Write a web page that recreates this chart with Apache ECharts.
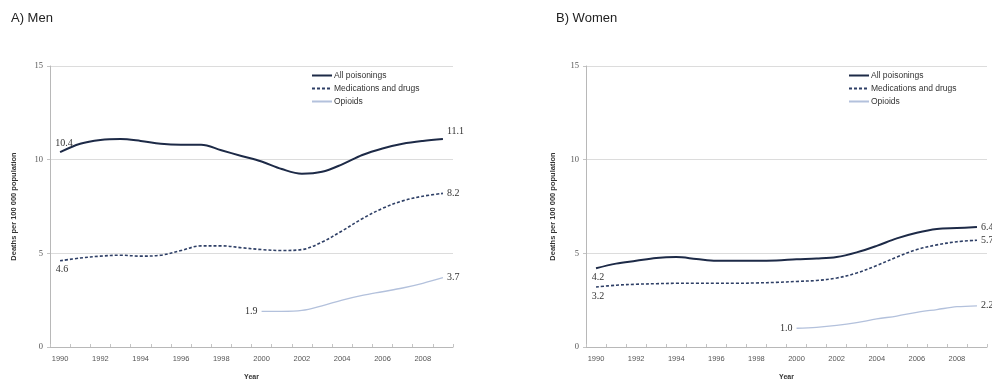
<!DOCTYPE html>
<html>
<head>
<meta charset="utf-8">
<style>
  html, body { margin: 0; padding: 0; background: #ffffff; }
  #chart { width: 992px; height: 386px; }
</style>
<script src="https://cdn.jsdelivr.net/npm/echarts@6/dist/echarts.min.js"></script>
</head>
<body>
<div id="chart"></div>
<script>
// Years on the category axis
const years = ['1990','1991','1992','1993','1994','1995','1996','1997','1998','1999',
               '2000','2001','2002','2003','2004','2005','2006','2007','2008','2009'];

// Deaths per 100 000 population — men
const menAll    = [10.4, 10.85, 11.05, 11.1, 11.0, 10.85, 10.8, 10.8, 10.5, 10.2,
                   9.9, 9.5, 9.25, 9.35, 9.75, 10.25, 10.6, 10.85, 11.0, 11.1];
const menMeds   = [4.6, 4.75, 4.85, 4.9, 4.85, 4.9, 5.15, 5.4, 5.4, 5.3,
                   5.2, 5.15, 5.2, 5.6, 6.2, 6.85, 7.4, 7.8, 8.05, 8.2];
const menOpi    = [null, null, null, null, null, null, null, null, null, null,
                   1.9, 1.9, 1.95, 2.2, 2.5, 2.75, 2.95, 3.15, 3.4, 3.7];

// Deaths per 100 000 population — women
const womenAll  = [4.2, 4.45, 4.6, 4.75, 4.8, 4.7, 4.6, 4.6, 4.6, 4.62,
                   4.68, 4.72, 4.8, 5.05, 5.4, 5.8, 6.1, 6.3, 6.35, 6.4];
const womenMeds = [3.2, 3.3, 3.35, 3.38, 3.4, 3.4, 3.4, 3.4, 3.42, 3.45,
                   3.5, 3.55, 3.68, 3.95, 4.35, 4.8, 5.2, 5.45, 5.62, 5.7];
const womenOpi  = [null, null, null, null, null, null, null, null, null, null,
                   1.0, 1.05, 1.15, 1.3, 1.5, 1.65, 1.85, 2.0, 2.15, 2.2];

const seriesNames = ['All poisonings', 'Medications and drugs', 'Opioids'];
const yTicks = [0, 5, 10, 15];

const C_ALL = '#1d2a47';
const C_MED = '#2e3f66';
const C_OPI = '#b3c1dc';
const SANS = 'Liberation Sans, Arial, sans-serif';
const SERIF = 'Liberation Serif, Times New Roman, serif';

// Value labels on the first and last drawn points of a series
function withEndLabels(values, startPos, endPos, startOffset, endOffset) {
  const first = values.findIndex(v => v !== null);
  let last = values.length - 1;
  while (values[last] === null) last--;
  return values.map((v, i) => {
    if (i === first || i === last) {
      const isFirst = i === first;
      return {
        value: v,
        label: {
          show: true,
          position: isFirst ? startPos : endPos,
          offset: isFirst ? startOffset : endOffset,
          distance: 3,
          formatter: p => Number(p.value).toFixed(1),
          fontFamily: SERIF,
          fontSize: 10,
          color: '#333',
          opacity: 1
        }
      };
    }
    return v;
  });
}

function lineSeries(name, values, idx, kind, labels) {
  const styles = {
    all: { color: C_ALL, width: 2, type: 'solid' },
    med: { color: C_MED, width: 1.6, type: [3, 2] },
    opi: { color: C_OPI, width: 1.3, type: 'solid' }
  };
  const s = styles[kind];
  return {
    name: name,
    type: 'line',
    xAxisIndex: idx,
    yAxisIndex: idx,
    smooth: 0.35,
    symbol: 'circle',
    symbolSize: 2,
    showSymbol: true,
    showAllSymbol: true,
    connectNulls: false,
    color: s.color,
    lineStyle: { color: s.color, width: s.width, type: s.type },
    itemStyle: { color: 'rgba(0,0,0,0)', borderWidth: 0 },
    data: withEndLabels(values, labels[0], labels[1], labels[2], labels[3]),
    z: kind === 'all' ? 4 : 3
  };
}

function xAxis(gridIndex) {
  return {
    type: 'category',
    gridIndex: gridIndex,
    data: years,
    boundaryGap: true,
    name: 'Year',
    nameLocation: 'middle',
    nameGap: 27,
    nameTextStyle: { fontFamily: SANS, fontSize: 7, fontWeight: 'bold', color: '#333' },
    axisLine: { lineStyle: { color: '#b8b8b8', width: 1 } },
    axisTick: { show: true, interval: 0, inside: true, length: 3, lineStyle: { color: '#c4c4c4' } },
    axisLabel: { interval: 1, fontFamily: SANS, fontSize: 7.5, color: '#555', margin: 8 },
    splitLine: { show: false }
  };
}

function yAxis(gridIndex, nameGap) {
  return {
    type: 'value',
    gridIndex: gridIndex,
    min: yTicks[0],
    max: yTicks[yTicks.length - 1],
    interval: 5,
    name: 'Deaths per 100 000 population',
    nameLocation: 'middle',
    nameRotate: 90,
    nameGap: nameGap,
    nameTextStyle: { fontFamily: SANS, fontSize: 7.5, fontWeight: 'bold', color: '#333' },
    axisLine: { show: true, lineStyle: { color: '#b8b8b8', width: 1 } },
    axisTick: { show: true, length: 3, lineStyle: { color: '#c4c4c4' } },
    axisLabel: { fontFamily: SERIF, fontSize: 8.5, color: '#555', margin: 7 },
    splitLine: { show: true, lineStyle: { color: '#dcdcdc', width: 1 } }
  };
}

function legend(left) {
  return {
    orient: 'vertical',
    left: left,
    top: 66,
    itemWidth: 20,
    itemHeight: 8,
    itemGap: 4,
    itemStyle: { opacity: 0 },
    textStyle: { fontFamily: SANS, fontSize: 8.5, color: '#333', padding: [0, 0, 0, -3] },
    data: seriesNames.map(n => ({ name: n }))
  };
}

const chart = echarts.init(document.getElementById('chart'), null, { renderer: 'canvas' });

chart.setOption({
  backgroundColor: '#ffffff',
  animation: false,
  title: [
    { text: 'A) Men', left: 6, top: 7,
      textStyle: { fontFamily: SANS, fontSize: 13, fontWeight: 'normal', color: '#222' } },
    { text: 'B) Women', left: 551, top: 7,
      textStyle: { fontFamily: SANS, fontSize: 13, fontWeight: 'normal', color: '#222' } }
  ],
  legend: [legend(306), legend(843)],
  grid: [
    { left: 50, right: 539, top: 66, bottom: 36 },
    { left: 586, right: 5, top: 66, bottom: 38 }
  ],
  xAxis: [xAxis(0), xAxis(1)],
  yAxis: [yAxis(0, 32), yAxis(1, 29)],
  series: [
    lineSeries(seriesNames[0], menAll, 0, 'all', ['top', 'right', [4, 0], [0, -8]]),
    lineSeries(seriesNames[1], menMeds, 0, 'med', ['bottom', 'right', [2, 0], [0, 0]]),
    lineSeries(seriesNames[2], menOpi, 0, 'opi', ['left', 'right', [0, 0], [0, 0]]),
    lineSeries(seriesNames[0], womenAll, 1, 'all', ['bottom', 'right', [2, 0], [0, 0]]),
    lineSeries(seriesNames[1], womenMeds, 1, 'med', ['bottom', 'right', [2, 0], [0, 0]]),
    lineSeries(seriesNames[2], womenOpi, 1, 'opi', ['left', 'right', [0, 0], [0, 0]])
  ]
});
</script>
</body>
</html>
